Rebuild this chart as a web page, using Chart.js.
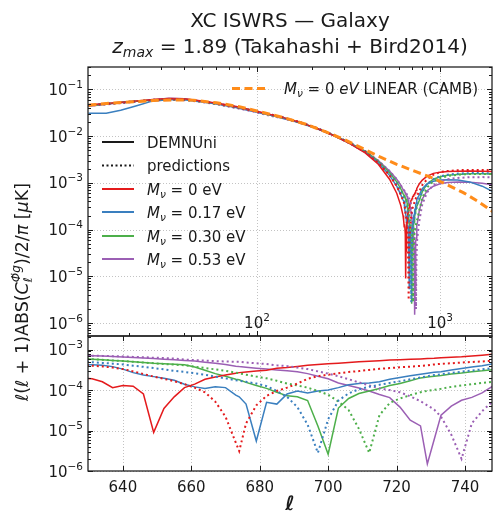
<!DOCTYPE html>
<html lang="en">
<head>
<meta charset="UTF-8">
<title>XC ISWRS — Galaxy</title>
<script src="https://cdn.jsdelivr.net/npm/chart.js"></script>
<style>
  html, body { margin: 0; padding: 0; background: #fff; }
  #fig { position: relative; width: 493px; height: 511px; overflow: hidden; }
  #fig canvas { position: absolute; left: 0; }
</style>
</head>
<body>
<div id="fig">
  <canvas id="mainPanel" width="493" height="511" style="top:0;width:493px;height:511px"></canvas>
  <canvas id="zoomPanel" width="493" height="185" style="top:326px;width:493px;height:185px"></canvas>
</div>
<script>
// --- data ---------------------------------------------------------------

// multipoles shared by the DEMNUni measurements and the predictions
const ell = [
  12, 15, 18, 22, 27, 33, 40, 50, 62, 77, 95, 115, 140, 170, 210, 260, 320, 390, 460, 530, 580, 610,
  628, 631, 634, 637, 640, 643, 646, 649, 652, 655, 658, 661, 664, 667, 670, 673, 674, 676, 679, 682,
  685, 688, 691, 694, 697, 700, 703, 706, 709, 712, 715, 718, 721, 724, 727, 729, 731, 733, 736, 739,
  742, 745, 748, 751,
  770, 800, 850, 920, 1000, 1100, 1250, 1450, 1700, 1950
];

// DEMNUni simulations, |l(l+1) C_l / 2pi| in muK
const simMnu000 = [
  0.047, 0.050, 0.053, 0.057, 0.061, 0.064, 0.063, 0.057, 0.050, 0.043, 0.036, 0.030, 0.025, 0.0200, 0.0150, 0.0105, 0.0070, 0.0044, 0.0025, 0.0012, 6.0e-4, 3.3e-4,
  2.0e-4, 1.9e-4, 1.6e-4, 1.15e-4, 1.3e-4, 1.25e-4, 8.0e-5, 9.0e-6, 3.5e-5, 6.8e-5, 1.15e-4, 1.4e-4, 1.85e-4, 2.1e-4, 2.35e-4, 2.6e-4, 2.7e-4, 2.8e-4, 2.95e-4, 3.1e-4,
  3.45e-4, 3.6e-4, 3.85e-4, 4.1e-4, 4.3e-4, 4.45e-4, 4.6e-4, 4.8e-4, 5.0e-4, 5.15e-4, 5.3e-4, 5.5e-4, 5.6e-4, 5.75e-4, 5.9e-4, 6.0e-4, 6.1e-4, 6.3e-4, 6.5e-4, 6.7e-4,
  7.0e-4, 7.3e-4, 7.7e-4, 7.9e-4,
  9.5e-4, 1.15e-3, 1.4e-3, 1.6e-3, 1.7e-3, 1.75e-3, 1.78e-3, 1.8e-3, 1.78e-3, 1.75e-3
];
const simMnu017 = [
  0.031, 0.031, 0.036, 0.045, 0.057, 0.060, 0.060, 0.054, 0.048, 0.041, 0.034, 0.029, 0.024, 0.0195, 0.0148, 0.0104, 0.0070, 0.0045, 0.0027, 0.00145, 8.5e-4, 5.6e-4,
  4.3e-4, 4.2e-4, 4.1e-4, 3.8e-4, 3.3e-4, 2.7e-4, 2.35e-4, 2.15e-4, 1.95e-4, 1.75e-4, 1.4e-4, 1.2e-4, 1.1e-4, 1.2e-4, 1.15e-4, 7.5e-5, 6.8e-5, 4.5e-5, 5.5e-6, 5.0e-5,
  4.5e-5, 8.0e-5, 9.5e-5, 8.5e-5, 9.5e-5, 1.0e-4, 1.15e-4, 1.35e-4, 1.45e-4, 1.5e-4, 1.6e-4, 1.85e-4, 2.05e-4, 2.25e-4, 2.45e-4, 2.6e-4, 2.75e-4, 2.85e-4, 3.15e-4, 3.4e-4,
  3.7e-4, 4.0e-4, 4.4e-4, 4.6e-4,
  5.5e-4, 7.5e-4, 9.5e-4, 1.08e-3, 1.15e-3, 1.17e-3, 1.15e-3, 1.05e-3, 8.5e-4, 6.5e-4
];
const simMnu030 = [
  0.045, 0.049, 0.053, 0.056, 0.059, 0.062, 0.062, 0.056, 0.049, 0.042, 0.035, 0.029, 0.0245, 0.0198, 0.0150, 0.0106, 0.0072, 0.0047, 0.0029, 0.00165, 1.05e-3, 7.5e-4,
  5.9e-4, 5.8e-4, 5.6e-4, 5.4e-4, 5.2e-4, 5.0e-4, 4.8e-4, 4.6e-4, 4.5e-4, 4.35e-4, 4.2e-4, 3.7e-4, 3.1e-4, 2.55e-4, 2.2e-4, 1.85e-4, 1.8e-4, 1.55e-4, 1.3e-4, 1.1e-4,
  8.8e-5, 7.2e-5, 6.8e-5, 5.5e-5, 1.3e-5, 2.6e-6, 3.6e-5, 6.2e-5, 8.2e-5, 9.5e-5, 1.1e-4, 1.3e-4, 1.45e-4, 1.7e-4, 2.0e-4, 2.1e-4, 2.2e-4, 2.3e-4, 2.5e-4, 2.65e-4,
  2.85e-4, 3.0e-4, 3.2e-4, 3.3e-4,
  4.2e-4, 6.5e-4, 9.5e-4, 1.2e-3, 1.35e-3, 1.45e-3, 1.52e-3, 1.56e-3, 1.57e-3, 1.55e-3
];
const simMnu053 = [
  0.044, 0.048, 0.052, 0.056, 0.060, 0.065, 0.063, 0.056, 0.048, 0.041, 0.034, 0.029, 0.024, 0.0195, 0.0149, 0.0106, 0.0073, 0.0048, 0.0030, 0.0018, 1.2e-3, 9.0e-4,
  7.2e-4, 7.1e-4, 7.0e-4, 6.8e-4, 6.6e-4, 6.4e-4, 6.2e-4, 6.0e-4, 5.8e-4, 5.6e-4, 5.4e-4, 5.2e-4, 4.9e-4, 4.6e-4, 4.3e-4, 3.9e-4, 3.8e-4, 3.65e-4, 3.45e-4, 3.3e-4,
  3.15e-4, 3.0e-4, 2.85e-4, 2.55e-4, 2.2e-4, 1.9e-4, 1.5e-4, 1.3e-4, 1.12e-4, 9.5e-5, 7.8e-5, 6.5e-5, 3.8e-5, 1.8e-5, 1.3e-5, 1.5e-6, 6.0e-6, 2.4e-5, 4.0e-5, 5.6e-5,
  6.6e-5, 8.5e-5, 1.23e-4, 1.35e-4,
  2.5e-4, 4.5e-4, 6.8e-4, 8.5e-4, 9.6e-4, 1.02e-3, 1.05e-3, 1.03e-3, 9.8e-4, 9.0e-4
];

// Takahashi + Bird2014 predictions on the same multipoles
const predMnu000 = [
  0.046, 0.049, 0.052, 0.056, 0.060, 0.062, 0.061, 0.056, 0.049, 0.042, 0.035, 0.030, 0.025, 0.0202, 0.0152, 0.0106, 0.0071, 0.0046, 0.0027, 0.00145, 8.5e-4, 5.6e-4,
  4.2e-4, 4.0e-4, 3.85e-4, 3.6e-4, 3.3e-4, 2.9e-4, 2.5e-4, 2.15e-4, 1.9e-4, 1.65e-4, 1.4e-4, 1.15e-4, 8.8e-5, 5.2e-5, 2.2e-5, 5.0e-6, 3.1e-6, 1.5e-5, 4.2e-5, 7.2e-5,
  9.5e-5, 1.15e-4, 1.45e-4, 1.9e-4, 2.2e-4, 2.4e-4, 2.6e-4, 2.8e-4, 2.95e-4, 3.15e-4, 3.35e-4, 3.5e-4, 3.65e-4, 3.8e-4, 3.95e-4, 4.1e-4, 4.3e-4, 4.45e-4, 4.6e-4, 4.8e-4,
  4.95e-4, 5.1e-4, 5.3e-4, 5.45e-4,
  6.5e-4, 9.0e-4, 1.2e-3, 1.5e-3, 1.7e-3, 1.8e-3, 1.87e-3, 1.9e-3, 1.9e-3, 1.88e-3
];
const predMnu017 = [
  0.046, 0.049, 0.052, 0.056, 0.060, 0.062, 0.061, 0.056, 0.049, 0.042, 0.035, 0.030, 0.025, 0.0201, 0.0152, 0.0107, 0.0072, 0.0047, 0.0028, 0.00155, 9.5e-4, 6.5e-4,
  5.0e-4, 4.9e-4, 4.7e-4, 4.5e-4, 4.3e-4, 4.0e-4, 3.75e-4, 3.5e-4, 3.25e-4, 3.0e-4, 2.8e-4, 2.6e-4, 2.4e-4, 2.15e-4, 1.95e-4, 1.75e-4, 1.7e-4, 1.6e-4, 1.45e-4, 1.25e-4,
  9.5e-5, 6.8e-5, 3.8e-5, 1.4e-5, 2.8e-6, 1.9e-5, 5.5e-5, 8.3e-5, 1.05e-4, 1.2e-4, 1.35e-4, 1.5e-4, 1.65e-4, 1.85e-4, 2.05e-4, 2.2e-4, 2.35e-4, 2.45e-4, 2.65e-4, 2.85e-4,
  3.05e-4, 3.25e-4, 3.5e-4, 3.65e-4,
  4.6e-4, 6.5e-4, 9.5e-4, 1.2e-3, 1.38e-3, 1.5e-3, 1.58e-3, 1.62e-3, 1.62e-3, 1.6e-3
];
const predMnu030 = [
  0.046, 0.049, 0.052, 0.056, 0.059, 0.061, 0.060, 0.055, 0.048, 0.041, 0.035, 0.029, 0.0245, 0.0198, 0.0151, 0.0107, 0.0073, 0.0048, 0.0029, 0.00165, 1.05e-3, 7.5e-4,
  5.9e-4, 5.8e-4, 5.6e-4, 5.4e-4, 5.2e-4, 5.0e-4, 4.8e-4, 4.6e-4, 4.4e-4, 4.25e-4, 4.1e-4, 3.8e-4, 3.5e-4, 3.25e-4, 3.0e-4, 2.7e-4, 2.6e-4, 2.4e-4, 2.15e-4, 1.95e-4,
  1.7e-4, 1.45e-4, 1.3e-4, 1.15e-4, 9.5e-5, 7.7e-5, 5.2e-5, 3.2e-5, 1.1e-5, 2.8e-6, 2.4e-5, 4.8e-5, 6.2e-5, 7.5e-5, 8.8e-5, 9.6e-5, 1.02e-4, 1.08e-4, 1.2e-4, 1.3e-4,
  1.4e-4, 1.5e-4, 1.6e-4, 1.65e-4,
  2.6e-4, 4.8e-4, 8.0e-4, 1.08e-3, 1.27e-3, 1.4e-3, 1.5e-3, 1.55e-3, 1.56e-3, 1.55e-3
];
const predMnu053 = [
  0.045, 0.048, 0.051, 0.055, 0.058, 0.060, 0.059, 0.054, 0.047, 0.040, 0.034, 0.028, 0.024, 0.0195, 0.0149, 0.0106, 0.0073, 0.0048, 0.0030, 0.0018, 1.2e-3, 9.0e-4,
  7.2e-4, 7.1e-4, 7.0e-4, 6.9e-4, 6.8e-4, 6.6e-4, 6.5e-4, 6.3e-4, 6.2e-4, 6.0e-4, 5.7e-4, 5.5e-4, 5.35e-4, 5.2e-4, 5.1e-4, 5.0e-4, 5.0e-4, 4.8e-4, 4.6e-4, 4.4e-4,
  4.1e-4, 3.9e-4, 3.6e-4, 3.3e-4, 2.9e-4, 2.55e-4, 2.2e-4, 1.85e-4, 1.55e-4, 1.3e-4, 1.1e-4, 1.0e-4, 8.8e-5, 7.0e-5, 5.3e-5, 4.2e-5, 3.3e-5, 2.2e-5, 7.9e-6, 2.0e-6,
  1.5e-5, 3.0e-5, 5.2e-5, 6.5e-5,
  1.5e-4, 3.5e-4, 6.3e-4, 9.0e-4, 1.08e-3, 1.2e-3, 1.28e-3, 1.32e-3, 1.33e-3, 1.32e-3
];

// linear CAMB spectrum for M_nu = 0
const cambEll = [12, 15, 20, 27, 35, 45, 60, 80, 105, 140, 185, 240, 300, 380, 470, 580, 720, 880, 1090, 1340, 1600, 1950];
const cambLinear = [0.046, 0.050, 0.054, 0.058, 0.060, 0.059, 0.052, 0.043, 0.033, 0.025, 0.018, 0.0122, 0.0085, 0.0054, 0.0036, 0.0025, 0.0018, 0.00135, 0.00092, 0.00062, 0.00041, 0.00024];

// neutrino masses (eV) and legend labels
const massLabels = ['0', '0.17', '0.30', '0.53'];
const styleLabels = ['DEMNUni', 'predictions'];
const cambLabel = 'LINEAR (CAMB)';

// tick values
const mainXTicks = [100, 1000];
const mainYTicks = [1e-6, 1e-5, 1e-4, 1e-3, 1e-2, 1e-1];
const zoomXTicks = [640, 660, 680, 700, 720, 740];
const zoomYTicks = [1e-6, 1e-5, 1e-4, 1e-3];

// --- styling ---------------------------------------------------------------

const simSeries = [simMnu000, simMnu017, simMnu030, simMnu053];
const predSeries = [predMnu000, predMnu017, predMnu030, predMnu053];
const massColors = ['#e41a1c', '#3a7fbf', '#4daf4a', '#9b5fb4'];
const cambColor = '#ff8c1a';
const INK = '#1a1a1a';
const FONT = '"DejaVu Sans", sans-serif';
const font = (px, style) => (style ? style + ' ' : '') + px + 'px ' + FONT;

const toPoints = (xs, ys) => xs.map((x, i) => ({ x: x, y: ys[i] }));

function curveDatasets(withCamb) {
    const sets = [];
    if (withCamb) {
        sets.push({ data: toPoints(cambEll, cambLinear), borderColor: cambColor, borderWidth: 3, borderDash: [8, 4.5] });
    }
    predSeries.forEach((ys, i) => sets.push({
        data: toPoints(ell, ys), borderColor: massColors[i], borderWidth: 2, borderDash: [2, 3]
    }));
    simSeries.forEach((ys, i) => sets.push({
        data: toPoints(ell, ys), borderColor: massColors[i], borderWidth: 1.5
    }));
    return sets;
}

// draws a list of text runs (font / vertical offset per run) on one baseline
function drawRuns(ctx, runs, x, y, align) {
    let total = 0;
    for (const r of runs) {
        ctx.font = r.font;
        r.w = ctx.measureText(r.text).width;
        if (r.under) r.w = Math.max(r.w, ctx.measureText(r.under.text).width);
        total += r.w;
    }
    let cx = align === 'right' ? x - total : align === 'center' ? x - total / 2 : x;
    for (const r of runs) {
        ctx.font = r.font;
        ctx.fillText(r.text, cx, y + (r.dy || 0));
        if (r.under) ctx.fillText(r.under.text, cx, y + r.under.dy);
        cx += r.w;
    }
    return total;
}

function powerRuns(v) {
    const e = Math.round(Math.log10(v));
    return [
        { text: '10', font: font(15) },
        { text: (e < 0 ? '\u2212' : '') + Math.abs(e), font: font(10.5), dy: -7 }
    ];
}

function massRuns(val, size, italicUnit) {
    return [
        { text: 'M', font: font(size, 'italic') },
        { text: '\u03bd', font: font(size * 0.7, 'italic'), dy: 3 },
        { text: ' = ' + val + ' ', font: font(size) },
        { text: 'eV', font: font(size, italicUnit ? 'italic' : '') }
    ];
}

function logMinors(lo, hi) {
    const out = [];
    for (let e = Math.floor(Math.log10(lo)); e <= Math.ceil(Math.log10(hi)); e++) {
        for (let m = 2; m <= 9; m++) {
            const v = m * Math.pow(10, e);
            if (v > lo && v < hi) out.push(v);
        }
    }
    return out;
}

// frame, inward ticks on all four sides, dotted grid and tick labels
function panelDecor(cfg) {
    return {
        id: 'panelDecor',
        beforeDatasetsDraw(chart) {
            const { ctx, chartArea: a, scales: { x, y } } = chart;
            ctx.save();
            ctx.strokeStyle = '#b4b4b4';
            ctx.lineWidth = 0.8;
            ctx.setLineDash([1, 2]);
            ctx.beginPath();
            for (const v of cfg.xTicks) {
                const px = Math.round(x.getPixelForValue(v)) + 0.5;
                ctx.moveTo(px, a.top); ctx.lineTo(px, a.bottom);
            }
            for (const v of cfg.yTicks) {
                const py = Math.round(y.getPixelForValue(v)) + 0.5;
                ctx.moveTo(a.left, py); ctx.lineTo(a.right, py);
            }
            ctx.stroke();
            ctx.restore();
        },
        afterDatasetsDraw(chart) {
            const { ctx, chartArea: a, scales: { x, y } } = chart;
            ctx.save();
            ctx.strokeStyle = INK;
            ctx.lineWidth = 1;
            ctx.beginPath();
            const xTick = (list, len) => list.forEach(v => {
                const px = Math.round(x.getPixelForValue(v)) + 0.5;
                ctx.moveTo(px, a.bottom); ctx.lineTo(px, a.bottom - len);
                ctx.moveTo(px, a.top); ctx.lineTo(px, a.top + len);
            });
            const yTick = (list, len) => list.forEach(v => {
                const py = Math.round(y.getPixelForValue(v)) + 0.5;
                ctx.moveTo(a.left, py); ctx.lineTo(a.left + len, py);
                ctx.moveTo(a.right, py); ctx.lineTo(a.right - len, py);
            });
            xTick(cfg.xTicks, 5);
            xTick(cfg.xMinor, 3);
            yTick(cfg.yTicks, 5);
            yTick(cfg.yMinor, 3);
            ctx.stroke();
            ctx.lineWidth = 1.25;
            ctx.strokeRect(a.left, a.top, a.right - a.left, a.bottom - a.top);

            ctx.fillStyle = INK;
            ctx.textBaseline = 'alphabetic';
            for (const v of cfg.yTicks) {
                drawRuns(ctx, powerRuns(v), a.left - 5, y.getPixelForValue(v) + 5.5, 'right');
            }
            for (const v of cfg.xTicks) {
                const runs = cfg.xLog ? powerRuns(v) : [{ text: String(v), font: font(15) }];
                drawRuns(ctx, runs, x.getPixelForValue(v), cfg.xLabelY(a), 'center');
            }
            ctx.restore();
        }
    };
}

// title, axis labels and the two legends
const figureText = {
    id: 'figureText',
    afterDraw(chart) {
        const { ctx, chartArea: a } = chart;
        ctx.save();
        ctx.fillStyle = INK;
        ctx.textBaseline = 'alphabetic';
        const cx = (a.left + a.right) / 2;
        drawRuns(ctx, [{ text: 'XC ISWRS \u2014 Galaxy', font: font(20) }], cx, 27, 'center');
        drawRuns(ctx, [
            { text: 'z', font: font(20, 'italic') },
            { text: 'max', font: font(14, 'italic'), dy: 4 },
            { text: ' = 1.89 (Takahashi + Bird2014)', font: font(20) }
        ], cx, 53, 'center');

        // left legend: line styles, then masses
        const rows = [75, 98.5, 122, 145, 169, 192];
        const x0 = a.left + 14, x1 = a.left + 46, tx = a.left + 59;
        const legendLine = (row, color, width, dash) => {
            ctx.save();
            ctx.strokeStyle = color;
            ctx.lineWidth = width;
            ctx.setLineDash(dash);
            ctx.beginPath();
            ctx.moveTo(x0, a.top + row); ctx.lineTo(x1, a.top + row);
            ctx.stroke();
            ctx.restore();
        };
        legendLine(rows[0], INK, 2, []);
        drawRuns(ctx, [{ text: styleLabels[0], font: font(15) }], tx, a.top + rows[0] + 5.5, 'left');
        legendLine(rows[1], INK, 2, [2, 2.5]);
        drawRuns(ctx, [{ text: styleLabels[1], font: font(15) }], tx, a.top + rows[1] + 5.5, 'left');
        massLabels.forEach((m, i) => {
            legendLine(rows[i + 2], massColors[i], 2, []);
            drawRuns(ctx, massRuns(m, 15, false), tx, a.top + rows[i + 2] + 5.5, 'left');
        });

        // upper legend: linear CAMB curve
        ctx.save();
        ctx.strokeStyle = cambColor;
        ctx.lineWidth = 3;
        ctx.setLineDash([8, 4.5]);
        ctx.beginPath();
        ctx.moveTo(a.left + 144, a.top + 21.5); ctx.lineTo(a.left + 180, a.top + 21.5);
        ctx.stroke();
        ctx.restore();
        drawRuns(ctx, massRuns('0', 15, true).concat([{ text: ' ' + cambLabel, font: font(15) }]),
            a.left + 196, a.top + 27, 'left');

        // x label
        drawRuns(ctx, [{ text: '\u2113', font: font(20, 'italic bold') }], cx, 510, 'center');

        // y label, rotated
        ctx.translate(28, 292);
        ctx.rotate(-Math.PI / 2);
        drawRuns(ctx, [
            { text: '\u2113', font: font(17.5, 'italic') },
            { text: '(', font: font(17.5) },
            { text: '\u2113', font: font(17.5, 'italic') },
            { text: ' + 1)ABS(', font: font(17.5) },
            { text: 'C', font: font(17.5, 'italic') },
            { text: '\u03a6\u0307g', font: font(12, 'italic'), dy: -8, under: { text: '\u2113', dy: 4 } },
            { text: ')/2/', font: font(17.5) },
            { text: '\u03c0', font: font(17.5, 'italic') },
            { text: ' [', font: font(17.5) },
            { text: '\u03bc', font: font(17.5, 'italic') },
            { text: 'K]', font: font(17.5) }
        ], 0, 0, 'center');
        ctx.restore();
    }
};

function baseOptions(padding, xScale, yScale) {
    return {
        responsive: false,
        maintainAspectRatio: false,
        devicePixelRatio: 1,
        animation: false,
        events: [],
        layout: { padding: padding },
        elements: { point: { radius: 0 }, line: { tension: 0, fill: false } },
        plugins: { legend: { display: false }, tooltip: { enabled: false }, title: { display: false } },
        scales: { x: xScale, y: yScale }
    };
}

// upper panel: full multipole range, log-log
const mainX = { type: 'logarithmic', min: 11.93, max: 1923, display: false };
const mainY = { type: 'logarithmic', min: 5.27e-7, max: 0.303, display: false };
new Chart(document.getElementById('mainPanel'), {
    type: 'line',
    data: { datasets: curveDatasets(true) },
    options: baseOptions({ top: 67, left: 88, right: 1, bottom: 175 }, mainX, mainY),
    plugins: [panelDecor({
        xTicks: mainXTicks, xMinor: logMinors(mainX.min, mainX.max),
        yTicks: mainYTicks, yMinor: logMinors(mainY.min, mainY.max),
        xLog: true, xLabelY: a => a.bottom - 8
    }), figureText]
});

// lower panel: zoom on the sign change, linear l
const zoomX = { type: 'linear', min: 629.8, max: 747.9, display: false };
const zoomY = { type: 'logarithmic', min: 1e-6, max: 2.17e-3, display: false };
new Chart(document.getElementById('zoomPanel'), {
    type: 'line',
    data: { datasets: curveDatasets(false) },
    options: baseOptions({ top: 10, left: 88, right: 1, bottom: 40 }, zoomX, zoomY),
    plugins: [panelDecor({
        xTicks: zoomXTicks, xMinor: [],
        yTicks: zoomYTicks, yMinor: logMinors(zoomY.min, zoomY.max),
        xLog: false, xLabelY: a => a.bottom + 21
    })]
});
</script>
</body>
</html>
